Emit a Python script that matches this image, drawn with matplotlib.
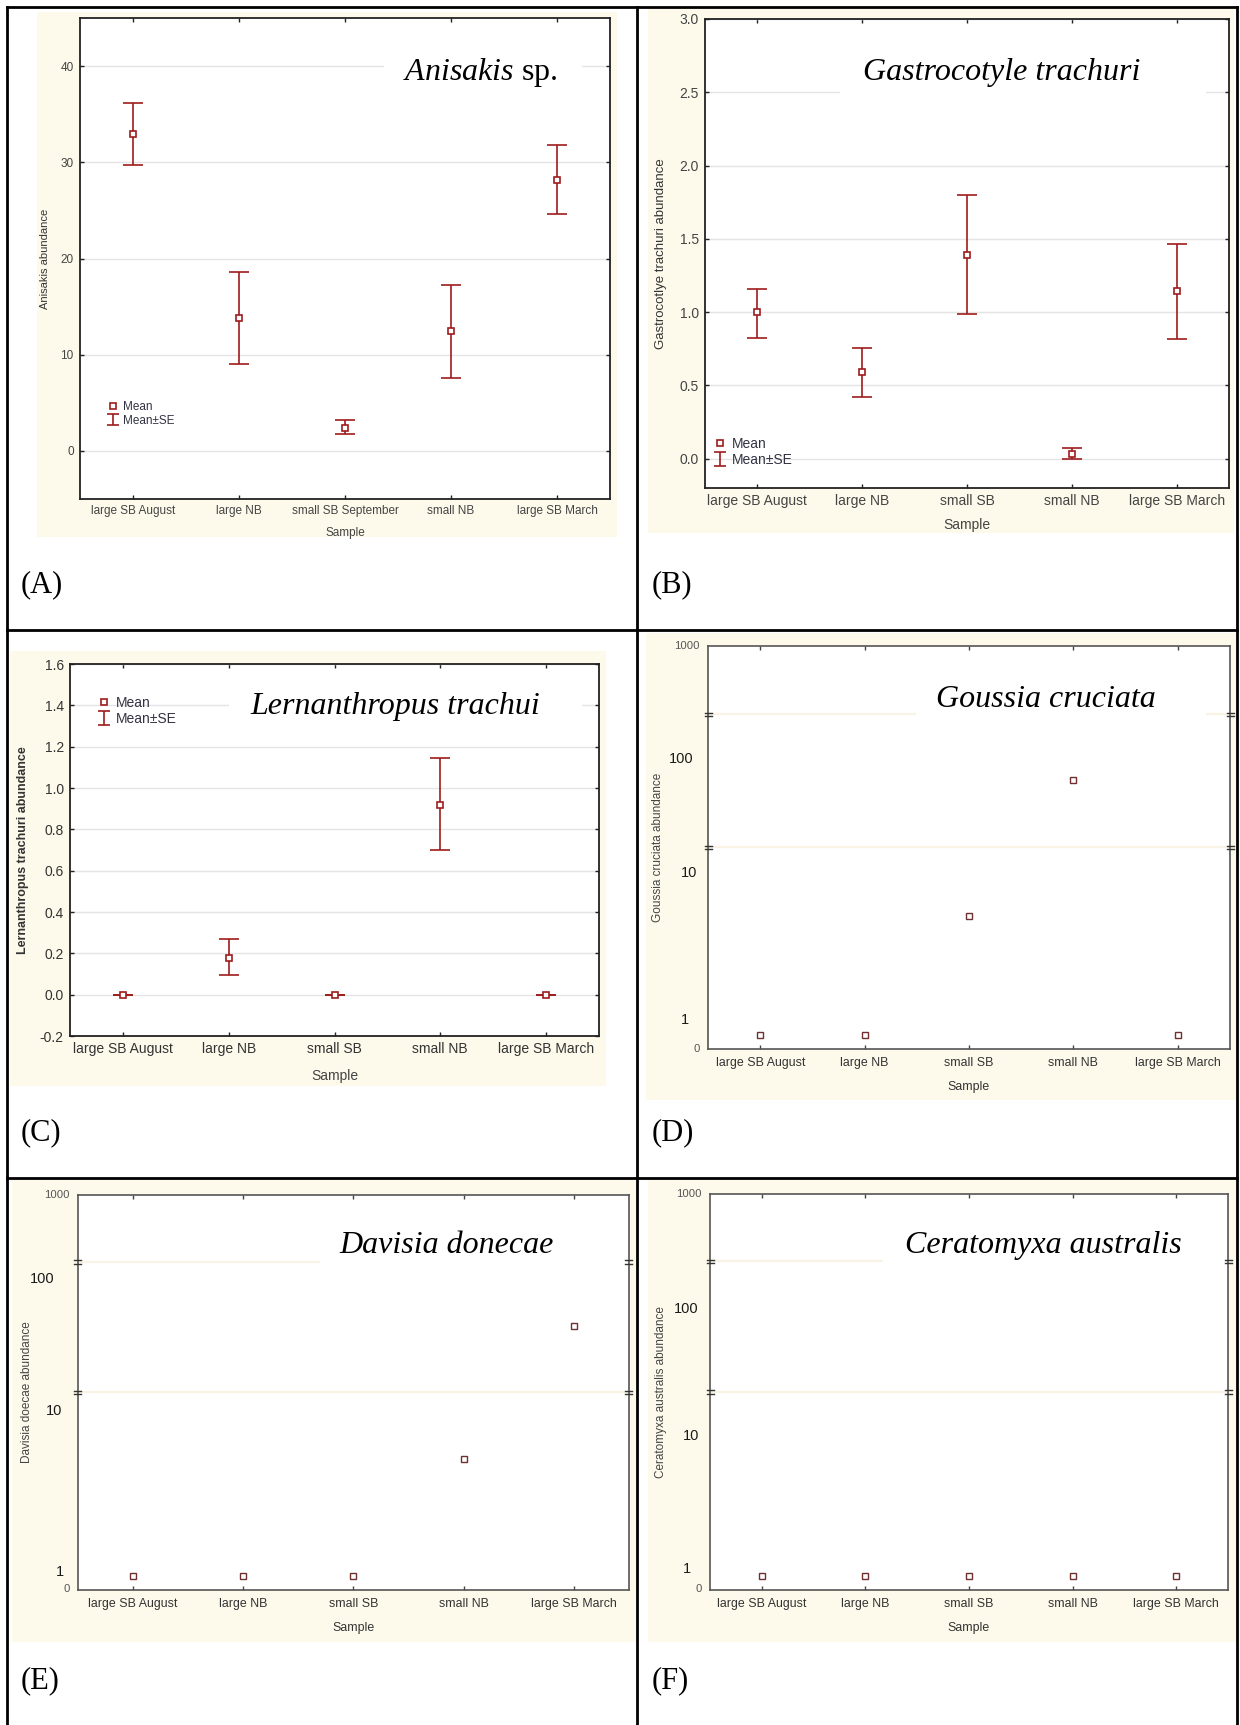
import numpy as np
import matplotlib
matplotlib.use('Agg')
import matplotlib.pyplot as plt
from matplotlib.patches import Rectangle
from matplotlib.lines import Line2D
from matplotlib.ticker import FixedLocator, NullLocator, FormatStrFormatter
from matplotlib.transforms import offset_copy
from matplotlib import font_manager

# ---- data ----
cats_a = ['large SB August', 'large NB', 'small SB September', 'small NB', 'large SB March']
cats = ['large SB August', 'large NB', 'small SB', 'small NB', 'large SB March']

anisakis_mean = [32.9, 13.8, 2.4, 12.5, 28.2]
anisakis_lo = [29.7, 9.0, 1.8, 7.6, 24.6]
anisakis_hi = [36.2, 18.6, 3.2, 17.2, 31.8]

gastro_mean = [1.0, 0.59, 1.39, 0.033, 1.145]
gastro_lo = [0.825, 0.418, 0.99, 0.0, 0.816]
gastro_hi = [1.16, 0.752, 1.797, 0.072, 1.465]

lern_mean = [0.0, 0.178, 0.0, 0.917, 0.0]
lern_lo = [0.0, 0.097, 0.0, 0.70, 0.0]
lern_hi = [0.0, 0.268, 0.0, 1.145, 0.0]

goussia_mean = [0.39, 0.39, 3.05, 32.2, 0.39]
davisia_mean = [0.39, 0.39, 0.39, 3.06, 32.4]
cerato_mean = [0.39, 0.39, 0.39, 0.39, 0.39]

log_labels = ['1000', '100', '10', '1', '0']

# ---- style ----
names = {f.name for f in font_manager.fontManager.ttflist}
if 'Liberation Sans Narrow' in names:
    NARROW, NS = 'Liberation Sans Narrow', 1.0
else:
    NARROW, NS = 'Liberation Sans', 0.85

plt.rcParams['font.family'] = 'Liberation Sans'
plt.rcParams['axes.unicode_minus'] = False
plt.rcParams['mathtext.fontset'] = 'custom'
plt.rcParams['mathtext.it'] = 'Liberation Serif:italic'
plt.rcParams['mathtext.rm'] = 'Liberation Serif'

CREAM = '#fdf9eb'
RED = '#9e1b1b'
BROWN = '#6e3030'
W, H = 1240, 1725

fig = plt.figure(figsize=(W / 100, H / 100), dpi=100)


def add_axes_px(box):
    x0, y0, x1, y1 = box
    return fig.add_axes([x0 / W, 1 - y1 / H, (x1 - x0) / W, (y1 - y0) / H])


def cream(x0, y0, x1, y1):
    fig.add_artist(Rectangle((x0 / W, 1 - y1 / H), (x1 - x0) / W, (y1 - y0) / H,
                             transform=fig.transFigure, fc=CREAM, ec='none', zorder=-1))


def fx(box, x):
    return (x - box[0]) / (box[2] - box[0])


def fy(box, y):
    return (box[3] - y) / (box[3] - box[1])


def title_box(ax, box, tb, title, tx, ty):
    ax.add_patch(Rectangle((fx(box, tb[0]), fy(box, tb[3])), fx(box, tb[2]) - fx(box, tb[0]),
                           fy(box, tb[1]) - fy(box, tb[3]), transform=ax.transAxes,
                           fc='white', ec='none', zorder=1.7))
    ax.text(fx(box, tx), fy(box, ty), title, transform=ax.transAxes, ha='center',
            va='baseline', fontsize=23, family='Liberation Serif',
            style='normal' if '$' in title else 'italic', zorder=4)


def err_panel(box, bg, mean, lo, hi, xlabels, ylim, yticks, ylabel, title, tpos, tb,
              fs, leg, ylab_x, samp_y, bold=False):
    cream(*bg)
    ax = add_axes_px(box)
    x = np.arange(len(mean))
    mean = np.array(mean)
    yerr = [mean - np.array(lo), np.array(hi) - mean]
    ax.errorbar(x, mean, yerr=yerr, fmt='none', ecolor=RED, elinewidth=1.2,
                capsize=7.5, capthick=1.2, zorder=2)
    ax.plot(x, mean, ls='none', marker='s', ms=4, mfc='white', mec=RED, mew=1.2, zorder=3)
    ax.set_xlim(-0.5, len(mean) - 0.5)
    ax.set_ylim(*ylim)
    ax.set_xticks(x)
    ax.set_xticklabels(xlabels)
    ax.yaxis.set_major_locator(FixedLocator(yticks))
    ax.yaxis.set_major_formatter(FormatStrFormatter('%.1f' if ylim[1] < 5 else '%d'))
    ax.grid(axis='y', color='#e4e4e4', lw=1.0)
    ax.tick_params(direction='in', length=3, width=1, top=True, right=True, color='#222',
                   labelcolor='#333' if bold else '#444', labelsize=fs, pad=4.5)
    for s in ax.spines.values():
        s.set_linewidth(1.3)
        s.set_color('#222')
    ax.set_ylabel(ylabel, fontsize=fs - 0.5 if not bold else fs - 1, color='#333',
                  fontweight='bold' if bold else 'normal')
    ax.yaxis.set_label_coords(fx(box, ylab_x), 0.5)
    ax.set_xlabel('Sample', fontsize=fs, color='#444')
    ax.xaxis.set_label_coords(0.5, fy(box, samp_y))
    title_box(ax, box, tb, title, *tpos)
    # legend: marker proxy + small I-beam proxy (nan data, nothing drawn in the plot)
    mh = Line2D([], [], ls='none', marker='s', ms=4, mfc='white', mec=RED, mew=1.2)
    eh = ax.errorbar([np.nan], [np.nan], yerr=[[np.nan], [np.nan]], fmt='none', ecolor=RED,
                     elinewidth=1.2, capsize=4.3, capthick=1.2)
    ax.legend([mh, eh], ['Mean', 'Mean\u00b1SE'], loc='center left',
              bbox_to_anchor=(fx(box, leg[0]), fy(box, leg[1])), frameon=False,
              handlelength=1.0, handletextpad=0.35, borderpad=0, borderaxespad=0,
              labelspacing=0.1, fontsize=fs, labelcolor='#334', numpoints=1)
    return ax


def log_panel(box, bg, mean, ylabel, title, tpos, tb, labpos, ylab_x):
    cream(*bg)
    ax = add_axes_px(box)
    x = np.arange(len(mean))
    ax.plot(x, mean, ls='none', marker='s', ms=4.2, mfc='white', mec=BROWN, mew=1.0,
            zorder=3, clip_on=False)
    ax.set_xlim(-0.5, len(mean) - 0.5)
    ax.set_yscale('log')
    ax.set_ylim(0.305, 327)
    ax.yaxis.set_major_locator(FixedLocator([10, 100]))
    ax.yaxis.set_minor_locator(NullLocator())
    ax.grid(axis='y', color='#f8f3e4', lw=1.6)
    ax.tick_params(axis='y', which='both', length=0, labelleft=False)
    ax.set_xticks(x)
    ax.set_xticklabels(cats, family=NARROW)
    ax.tick_params(axis='x', direction='in', length=3, width=1, top=True, color='#444',
                   labelcolor='#333', labelsize=10.5 * NS, pad=6)
    for s in ax.spines.values():
        s.set_linewidth(1.2)
        s.set_color('#555')
    # axis break marks
    dx = 3.5 / (box[2] - box[0])
    for v in (10, 100):
        for xs in (0, 1):
            for dy in (-1.6, 1.6):
                t = offset_copy(ax.get_yaxis_transform(), fig=fig, y=dy, units='dots')
                ax.plot([xs - dx, xs + dx], [v, v], transform=t, color='#333', lw=1,
                        clip_on=False, zorder=5)
    for lab, (rx, cy) in zip(log_labels, labpos):
        if lab in ('1000', '0'):
            kw = dict(family=NARROW, fontsize=9.5 * NS, color='#555')
        else:
            kw = dict(family='Liberation Sans', fontsize=10.5, color='#1a1a1a')
        ax.text(fx(box, rx), fy(box, cy), lab, transform=ax.transAxes, ha='right',
                va='center', **kw)
    ax.set_ylabel(ylabel, family=NARROW, fontsize=10 * NS, color='#444')
    ax.yaxis.set_label_coords(fx(box, ylab_x), 0.5)
    ax.set_xlabel('Sample', family=NARROW, fontsize=10.5 * NS, color='#333')
    ax.xaxis.set_label_coords(0.5, fy(box, box[3] + 32))
    title_box(ax, box, tb, title, *tpos)
    return ax


# (A)
err_panel((80, 18, 610, 499), (37, 12, 617, 537), anisakis_mean, anisakis_lo, anisakis_hi,
          cats_a, (-5, 45), [0, 10, 20, 30, 40], 'Anisakis abundance',
          r'$\mathit{Anisakis}$ sp.', (480, 80), (384, 50, 582, 90), 8.5, (107.5, 414), 50, 527)
# (B)
err_panel((705, 19, 1229, 488), (648, 9, 1234, 533), gastro_mean, gastro_lo, gastro_hi,
          cats, (-0.2, 3.0), [0.0, 0.5, 1.0, 1.5, 2.0, 2.5, 3.0],
          'Gastrocotlye trachuri abundance', 'Gastrocotyle trachuri', (1002, 80),
          (840, 50, 1206, 100), 10, (713, 452), 667, 518)
# (C)
err_panel((70, 664, 599, 1036), (10, 651, 606, 1086), lern_mean, lern_lo, lern_hi,
          cats, (-0.2, 1.6), [-0.2, 0.0, 0.2, 0.4, 0.6, 0.8, 1.0, 1.2, 1.4, 1.6],
          'Lernanthropus trachuri abundance', 'Lernanthropus trachui', (395, 714),
          (229, 680, 582, 725), 10, (97, 711), 29, 1069, bold=True)
# (D)
log_panel((708, 646, 1230, 1049), (646, 633, 1236, 1100), goussia_mean,
          'Goussia cruciata abundance', 'Goussia cruciata', (1046, 707), (916, 680, 1206, 725),
          [(700, 646), (693, 759), (697, 873), (689, 1020), (700, 1049)], 664)
# (E)
log_panel((78, 1195, 629, 1590), (12, 1180, 636, 1642), davisia_mean,
          'Davisia doecae abundance', 'Davisia donecae', (447, 1253), (320, 1225, 627, 1275),
          [(70, 1195), (55, 1279), (62, 1411), (64.5, 1572), (70, 1589)], 33)
# (F)
log_panel((710, 1194, 1228, 1590), (648, 1180, 1236, 1642), cerato_mean,
          'Ceratomyxa australis abundance', 'Ceratomyxa australis', (1043, 1253),
          (883, 1225, 1226, 1275),
          [(702, 1194), (698, 1309), (699, 1436), (691, 1569), (702, 1589)], 667)

# panel letters
for lab, (x, y) in zip(['(A)', '(B)', '(C)', '(D)', '(E)', '(F)'],
                       [(21, 592), (652, 592), (21, 1140), (652, 1140), (21, 1688), (652, 1688)]):
    fig.text(x / W, 1 - y / H, lab, family='Liberation Serif', fontsize=22, va='baseline')

# table borders
for (x0, y0, x1, y1) in [(7, 7, 1237, 7), (7, 630, 1237, 630), (7, 1178, 1237, 1178),
                         (7, 7, 7, 1725), (637, 7, 637, 1725), (1237, 7, 1237, 1725)]:
    fig.add_artist(Line2D([x0 / W, x1 / W], [1 - y0 / H, 1 - y1 / H], transform=fig.transFigure,
                          color='black', lw=2.0, zorder=5))

fig.savefig('out.png', dpi=100)
